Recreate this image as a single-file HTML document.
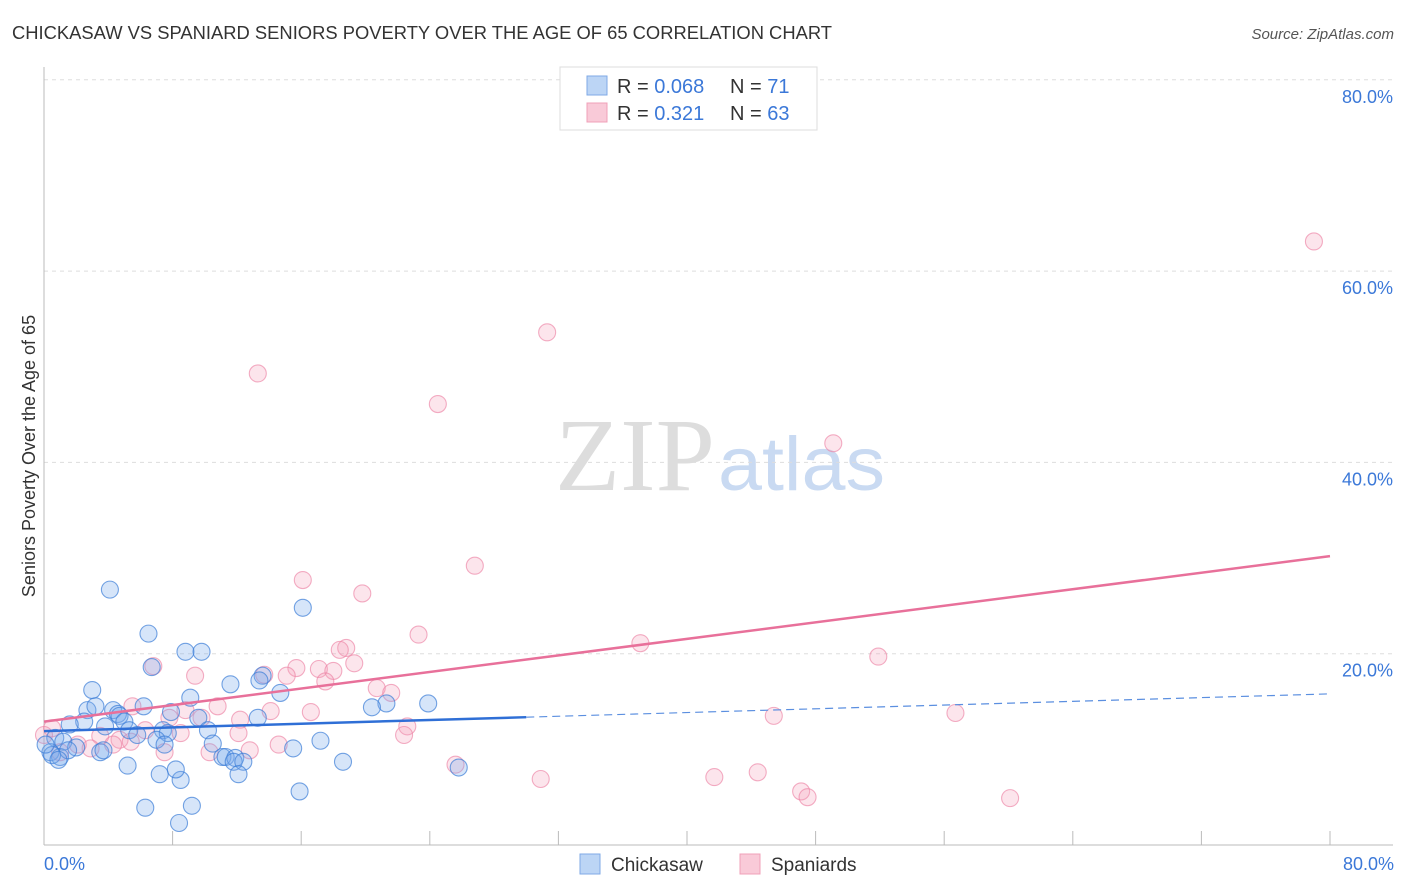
<!DOCTYPE html>
<html><head><meta charset="utf-8"><style>
body{margin:0;background:#fff;font-family:"Liberation Sans",sans-serif}
svg{display:block}
</style></head><body>
<svg id="c" width="1406" height="892" xmlns="http://www.w3.org/2000/svg">
<text x="12" y="39" font-size="18" fill="#333" textLength="820" lengthAdjust="spacingAndGlyphs">CHICKASAW VS SPANIARD SENIORS POVERTY OVER THE AGE OF 65 CORRELATION CHART</text>
<text x="1394" y="39" font-size="15" fill="#555" font-style="italic" text-anchor="end">Source: ZipAtlas.com</text>
<text x="35" y="456" font-size="18" fill="#333" text-anchor="middle" transform="rotate(-90 35 456)">Seniors Poverty Over the Age of 65</text>
<g><text x="555" y="490" font-size="104" fill="#ddd" font-family="Liberation Serif,serif" textLength="160" lengthAdjust="spacingAndGlyphs">ZIP</text><text x="718" y="490" font-size="76" fill="#c9daf2" textLength="167" lengthAdjust="spacingAndGlyphs">atlas</text></g>
<g id="grid"></g><g id="axes"></g><g id="pts"></g><g id="lines"></g>
<g>
<rect x="560" y="67" width="257" height="63" fill="#fff" stroke="#ddd"/>
<rect x="587" y="76" width="20" height="19" fill="#bcd5f5" stroke="#7fa9e6"/>
<rect x="587" y="103" width="20" height="19" fill="#f9cad8" stroke="#f0a0b8"/>
<text x="617" y="93" font-size="20" fill="#333">R = <tspan fill="#3b78d8">0.068</tspan></text>
<text x="730" y="93" font-size="20" fill="#333">N = <tspan fill="#3b78d8"> 71</tspan></text>
<text x="617" y="120" font-size="20" fill="#333">R = <tspan fill="#3b78d8"> 0.321</tspan></text>
<text x="730" y="120" font-size="20" fill="#333">N = <tspan fill="#3b78d8">63</tspan></text>
</g>
<g>
<rect x="580" y="854" width="20" height="20" fill="#bcd5f5" stroke="#7fa9e6"/>
<text x="611" y="871" font-size="19" fill="#333">Chickasaw</text>
<rect x="740" y="854" width="20" height="20" fill="#f9cad8" stroke="#f0a0b8"/>
<text x="771" y="871" font-size="19" fill="#333">Spaniards</text>
</g>
<text x="44" y="870" font-size="18" fill="#3b78d8">0.0%</text>
<text x="1394" y="870" font-size="18" fill="#3b78d8" text-anchor="end">80.0%</text>
</svg>
<script>
const yTicks=[20,40,60,80];
const blueX=[4.1,6.5,16.1,8.8,9.8,6.7,3.0,9.1,11.6,13.6,13.4,14.7,21.3,23.9,20.4,6.2,2.7,3.2,4.3,4.6,7.9,9.6,13.3,4.7,5.0,2.5,1.6,3.8,5.3,7.4,7.7,10.2,5.8,7.0,7.5,0.7,1.2,2.0,3.5,3.7,0.4,1.0,0.5,10.5,15.5,17.2,11.1,11.3,11.9,11.8,12.4,5.2,18.6,25.8,7.2,12.1,8.5,8.2,15.9,6.3,9.2,8.4,0.1,1.5,0.9];
const blueY=[26.7,22.1,24.8,20.2,20.2,18.6,16.2,15.4,16.8,17.7,17.2,15.9,14.8,14.8,14.4,14.5,14.1,14.5,14.1,13.7,13.9,13.3,13.3,13.5,12.9,12.9,12.6,12.4,12.0,12.0,11.7,12.0,11.5,11.0,10.5,11.2,10.8,10.2,9.7,9.9,9.7,9.2,9.4,10.6,10.1,10.9,9.2,9.2,9.1,8.7,8.7,8.3,8.7,8.1,7.4,7.4,6.8,7.9,5.6,3.9,4.1,2.3,10.5,9.9,8.9];
const pinkX=[79.0,31.3,13.3,24.5,49.1,26.8,16.1,19.8,23.3,37.1,18.8,18.4,51.9,6.8,19.3,15.7,17.1,18.0,13.7,15.1,9.4,17.5,20.7,21.6,10.8,5.5,8.8,14.1,16.6,56.7,45.4,7.8,9.8,12.2,22.6,6.3,8.5,12.1,3.5,22.4,0.5,4.7,14.6,2.9,12.8,7.5,10.3,1.0,2.1,25.6,30.9,41.7,44.4,47.1,47.5,60.1,4.3,5.4,0.0];
const pinkY=[63.1,53.6,49.3,46.1,42.0,29.2,27.7,26.3,22.0,21.1,20.6,20.4,19.7,18.7,19.0,18.5,18.4,18.2,17.8,17.7,17.7,17.1,16.4,15.9,14.5,14.5,14.1,14.0,13.9,13.8,13.5,13.3,13.3,13.1,12.4,12.0,11.7,11.7,11.4,11.5,12.2,11.0,10.5,10.1,9.9,9.7,9.7,9.7,10.5,8.4,6.9,7.1,7.6,5.6,5.0,4.9,10.5,10.8,11.5];
const blueTrend=[11.9,15.8];
const pinkTrend=[12.9,30.2];
const NS='http://www.w3.org/2000/svg';
const sx=v=>44+v*1286/80, sy=v=>845-v*191.3/20;
function mk(t,a,p){const e=document.createElementNS(NS,t);for(const k in a)e.setAttribute(k,a[k]);p.appendChild(e);return e;}
const grid=document.getElementById('grid'),axes=document.getElementById('axes');
yTicks.forEach(t=>{
 const l=mk('line',{x1:44,x2:1393,y1:sy(t),y2:sy(t),stroke:'#ddd','stroke-dasharray':'4,4'},grid);
 
 
 const tx=mk('text',{x:1393,y:sy(t)+23,'font-size':18,fill:'#3b78d8','text-anchor':'end'},grid);
 tx.textContent=t.toFixed(1)+'%';
 
 
});
const ya=mk('line',{x1:44,x2:44,y1:67,y2:845,stroke:'#bbb'},axes);


const xa=mk('line',{x1:44,x2:1393,y1:845,y2:845,stroke:'#bbb'},axes);


for(let i=0;i<=10;i++){const t=mk('line',{x1:sx(i*8),x2:sx(i*8),y1:831,y2:845,stroke:'#bbb'},axes);
 
 }
const pts=document.getElementById('pts');
function dots(X,Y,fill,stroke,name){X.forEach((x,i)=>{const c=mk('circle',{cx:sx(x),cy:sy(Y[i]),r:8.5,fill:fill,stroke:stroke,'stroke-width':1.1},pts);
 
 });}
dots(pinkX,pinkY,'rgba(244,160,188,0.28)','rgba(236,130,165,0.65)','spaniards-point');
dots(blueX,blueY,'rgba(120,170,235,0.3)','rgba(60,125,215,0.7)','chickasaw-point');
const lines=document.getElementById('lines');
const by=x=>blueTrend[0]+(blueTrend[1]-blueTrend[0])*x/80, py=x=>pinkTrend[0]+(pinkTrend[1]-pinkTrend[0])*x/80;
const b1=mk('line',{x1:sx(0),y1:sy(by(0)),x2:sx(30),y2:sy(by(30)),stroke:'#2f6fd6','stroke-width':2.5},lines);


const b2=mk('line',{x1:sx(30),y1:sy(by(30)),x2:sx(80),y2:sy(by(80)),stroke:'#5b8fe0','stroke-width':1.2,'stroke-dasharray':'8,5'},lines);


const p1=mk('line',{x1:sx(0),y1:sy(py(0)),x2:sx(80),y2:sy(py(80)),stroke:'#e8709a','stroke-width':2.5},lines);


</script>
</body></html>
